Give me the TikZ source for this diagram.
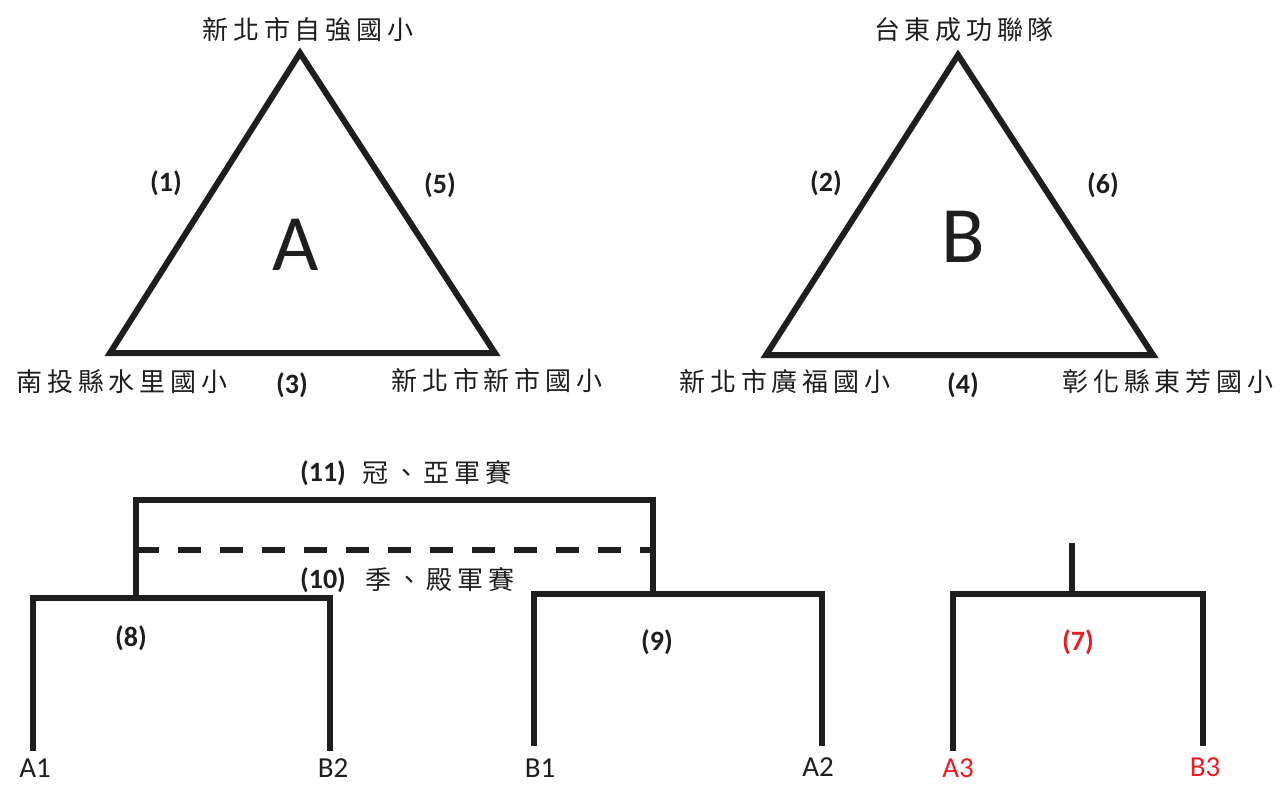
\documentclass[tikz,border=0pt]{standalone}
\usepackage{fontspec}
\setmainfont{Carlito}
\newfontfamily\cjk[LetterSpace=18]{Noto Sans CJK TC}
\definecolor{lbl}{RGB}{237,28,36}
\definecolor{ink}{RGB}{30,30,30}
\tikzset{
  cjkl/.style={font=\cjk\fontsize{26}{30}\selectfont, inner sep=0pt, text=ink},
  num/.style={font=\bfseries\fontsize{28}{32}\selectfont, inner sep=0pt, text=ink},
  bigl/.style={font=\fontsize{80}{90}\selectfont, inner sep=0pt, text=ink},
  team/.style={font=\fontsize{29}{34}\selectfont, inner sep=0pt, text=ink},
  redt/.style={text=lbl},
  edge/.style={line width=6pt, line join=miter, draw=ink},
  bline/.style={line width=5.5pt, line cap=rect, draw=ink},
  dashline/.style={line width=5.5pt, draw=ink, dash pattern=on 22.5pt off 19.5pt}
}
\begin{document}
\begin{tikzpicture}[x=1pt,y=-1pt]
\useasboundingbox (0,0) rectangle (1280,785);
% Triangle A
\coordinate (at) at (300,53);
\coordinate (al) at (110,353);
\coordinate (ar) at (495,353);
\draw[edge] (at) -- (al) -- (ar) -- cycle;
\node[cjkl] (a1n) at (308,30) {新北市自強國小};
\node[cjkl] (a2n) at (122,382) {南投縣水里國小};
\node[cjkl] (a3n) at (497,381) {新北市新市國小};
\node[num] (g1) at (166,183) {(1)};
\node[num] (g5) at (440,185) {(5)};
\node[num] (g3) at (292,385) {(3)};
\node[bigl] (gA) at (296,245) {A};
% Triangle B
\coordinate (bt) at (958,55);
\coordinate (bl) at (766,355);
\coordinate (br) at (1153,355);
\draw[edge] (bt) -- (bl) -- (br) -- cycle;
\node[cjkl] (b1n) at (964,30) {台東成功聯隊};
\node[cjkl] (b2n) at (785,382) {新北市廣福國小};
\node[cjkl] (b3n) at (1168,382) {彰化縣東芳國小};
\node[num] (g2) at (826,183) {(2)};
\node[num] (g6) at (1103,185) {(6)};
\node[num] (g4) at (963,385) {(4)};
\node[bigl] (gB) at (963,237) {B};
% Bracket 8
\coordinate (p8l) at (33,748);
\coordinate (p8r) at (330,748);
\coordinate (p8tl) at (33,598);
\coordinate (p8tr) at (330,598);
\draw[bline] (p8l) -- (p8tl) -- (p8tr) -- (p8r);
% Bracket 9
\coordinate (p9l) at (534,743);
\coordinate (p9r) at (822,743);
\coordinate (p9tl) at (534,594);
\coordinate (p9tr) at (822,594);
\draw[bline] (p9l) -- (p9tl) -- (p9tr) -- (p9r);
% Final bracket 11
\coordinate (f8) at (136,598);
\coordinate (f9) at (653,594);
\coordinate (ftl) at (136,500);
\coordinate (ftr) at (653,500);
\draw[bline] (f8) -- (ftl) -- (ftr) -- (f9);
% dashed 10
\coordinate (dl) at (136,550);
\coordinate (dr) at (653,550);
\draw[dashline] (dl) -- (dr);
% Bracket 7
\coordinate (p7l) at (953,748);
\coordinate (p7r) at (1203,743);
\coordinate (p7tl) at (953,594);
\coordinate (p7tr) at (1203,594);
\coordinate (p7m) at (1072,594);
\coordinate (p7s) at (1072,543);
\draw[bline] (p7l) -- (p7tl) -- (p7tr) -- (p7r);
\draw[line width=5.5pt, draw=ink] (p7m) -- (p7s);
% labels
\node[num] (g11) at (323,473) {(11)};
\node[cjkl] (t11) at (437,473) {冠、亞軍賽};
\node[num] (g10) at (323,580) {(10)};
\node[cjkl] (t10) at (440,580) {季、殿軍賽};
\node[num] (g8) at (131,638) {(8)};
\node[num] (g9) at (657,642) {(9)};
\node[num,redt] (g7) at (1078,642) {(7)};
\node[team] (tA1) at (35,768) {A1};
\node[team] (tB2) at (333,768) {B2};
\node[team] (tB1) at (540,768) {B1};
\node[team] (tA2) at (818,767) {A2};
\node[team,redt] (tA3) at (958,768) {A3};
\node[team,redt] (tB3) at (1205,767) {B3};
\end{tikzpicture}
\end{document}
